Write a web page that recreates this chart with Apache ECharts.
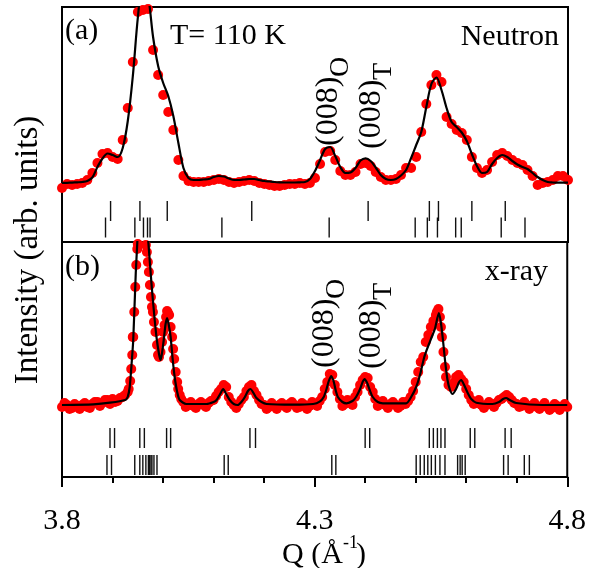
<!DOCTYPE html>
<html><head><meta charset="utf-8">
<script src="https://cdn.jsdelivr.net/npm/echarts@6/dist/echarts.min.js"></script>
<style>html,body{margin:0;padding:0;background:#fff}#c{width:589px;height:568px}</style>
</head><body><div id="c"></div><script>
// Q grid (Å^-1) of the measured points
const qGrid = [3.80,3.81,3.82,3.83,3.84,3.85,3.86,3.87,3.88,3.89,
3.90,3.91,3.92,3.93,3.94,3.95,3.96,3.97,3.98,3.99,
4.00,4.01,4.02,4.03,4.04,4.05,4.06,4.07,4.08,4.09,
4.10,4.11,4.12,4.13,4.14,4.15,4.16,4.17,4.18,4.19,
4.20,4.21,4.22,4.23,4.24,4.25,4.26,4.27,4.28,4.29,
4.30,4.31,4.32,4.33,4.34,4.35,4.36,4.37,4.38,4.39,
4.40,4.41,4.42,4.43,4.44,4.45,4.46,4.47,4.48,4.49,
4.50,4.51,4.52,4.53,4.54,4.55,4.56,4.57,4.58,4.59,
4.60,4.61,4.62,4.63,4.64,4.65,4.66,4.67,4.68,4.69,
4.70,4.71,4.72,4.73,4.74,4.75,4.76,4.77,4.78,4.79,4.80];

// (a) Neutron, observed intensity (arb. units)
const neutronObs = [54,58,57,58,59,62,69,79,88,89,
85,83,102,134,180,230,232,233,192,167,
147,130,112,82,66,61,60,60,60,61,
62,63,62,60,59,60,61,62,61,59,
58,57,56,56,57,58,58,59,58,59,
64,78,90,91,82,71,67,67,70,78,
79,76,70,65,62,62,63,67,74,74,
85,110,138,157,167,160,125,118,112,109,
102,85,74,69,72,80,87,89,86,82,
79,77,72,66,57,59,60,62,66,66,62];

// (a) Neutron, calculated (fit)
const neutronFit = [59,59.2,59.4,59.7,60,61,64.5,75,83.5,88.5,
87,85,94,121,166,225,262,247,205,176,
159,146,126,99,74,64,62,62,62.5,63,
65,66,65.5,63.5,62,62,62.5,63,63,62,
61,60.5,60,59.7,59.5,59.5,59.5,59.7,60,63,
71,82,93,95,86,75,69,69.5,74,81.5,
83.7,81,74.5,67,63,62,63,66.5,72,84,
97,110,135,158,164.5,152,134,120,115,109.5,
101,88,76,69,70,78,84,87,85,81,
77.5,75,73,69,65,62,60,59.5,59.3,59.3,59.3];

// (b) x-ray, observed intensity on the Q grid
const xrayObs = [70,72,69,71,72,70,73,75,74,77,
78,76,80,85,140,233,300,215,165,122,
145,164,128,88,75,72,71,73,72,74,
77,85,92,80,72,73,80,90,86,77,
72,70,71,72,71,73,72,70,72,71,
73,76,88,103,92,78,73,74,80,92,
100,90,78,74,72,73,72,71,73,80,
95,115,135,150,162,150,100,90,100,98,
88,77,74,72,72,73,74,78,82,77,
73,71,72,71,70,71,70,69,71,70,70];

// (b) x-ray, additional observed points (finer steps)
const xrayObsExtra = [[3.805,74],[3.815,68],[3.825,73],[3.835,68],[3.845,74],[3.855,69],[3.865,75],[3.875,71],[3.885,77],[3.895,73],
[3.905,75],[3.915,79],[3.925,82],[3.932,88],[3.935,96],[3.937,108],[3.939,122],[3.941,140],[3.943,165],[3.945,190],[3.947,212],[3.949,228],
[3.966,232],[3.968,225],[3.972,205],[3.974,192],[3.976,180],[3.978,170],[3.982,155],[3.985,145],[3.988,132],[3.992,120],[3.995,125],[3.998,135],[4.003,152],[4.006,160],[4.008,166],[4.012,162],[4.015,150],[4.018,140],[4.022,118],[4.025,105],[4.028,95],[4.033,82],[4.036,78],
[4.045,70],[4.055,75],[4.065,69],[4.075,75],[4.085,70],[4.095,76],[4.105,81],
[4.115,88],[4.125,90],[4.135,75],[4.145,69],[4.155,77],[4.165,86],[4.175,92],[4.185,82],
[4.195,73],[4.205,68],[4.215,74],[4.225,68],[4.235,74],[4.245,69],[4.255,75],[4.265,69],[4.275,74],[4.285,68],[4.295,75],[4.305,71],[4.315,80],
[4.325,95],[4.335,102],[4.345,85],[4.355,71],[4.365,77],[4.375,72],[4.385,85],[4.395,97],[4.405,99],[4.415,85],
[4.425,71],[4.435,76],[4.445,69],[4.455,75],[4.465,69],[4.475,75],[4.485,76],[4.495,86],
[4.505,105],[4.515,120],[4.525,142],[4.535,156],[4.542,165],[4.545,168],[4.548,160],[4.552,140],[4.555,125],[4.558,110],[4.565,92],[4.575,94],[4.585,102],[4.595,95],
[4.605,82],[4.615,73],[4.625,77],[4.635,69],[4.645,75],[4.655,70],[4.665,77],[4.675,80],[4.685,80],
[4.695,74],[4.705,70],[4.715,75],[4.725,68],[4.735,74],[4.745,68],[4.755,74],[4.765,67],[4.775,73],[4.785,67],[4.795,73]];

// (b) x-ray, calculated (fit)
const xrayFit = [[3.80,72],[3.862,72.7],[3.895,74.3],[3.925,77],[3.930,80],[3.934,90],[3.938,115],[3.941,137],[3.946,204],[3.949,234],[3.952,267],[3.958,297],[3.964,277],[3.971,234],[3.977,194],[3.982,165],[3.987,140],[3.992,123],[3.995,117],[3.998,124],[4.002,140],[4.005,153],[4.008,159],[4.011,153],[4.015,140],[4.019,118],[4.023,100],[4.028,85],[4.033,77],[4.046,73],[4.086,73],[4.100,75],[4.106,77],[4.113,83],[4.119,88],[4.125,83],[4.132,77],[4.140,73],[4.148,72],[4.155,75],[4.162,80],[4.168,86],[4.173,88],[4.179,84],[4.185,79],[4.195,75],[4.205,73],[4.257,72.3],[4.297,73],[4.310,75.3],[4.318,80],[4.323,87],[4.328,96],[4.333,101],[4.338,95],[4.342,86],[4.346,80],[4.355,75],[4.363,73.7],[4.375,76],[4.382,80],[4.390,88],[4.395,95],[4.399,98],[4.404,94],[4.409,87],[4.415,80],[4.425,75],[4.435,73.7],[4.481,73.7],[4.491,80],[4.501,90],[4.509,103],[4.517,120],[4.524,130],[4.531,139],[4.538,148],[4.546,164],[4.550,154],[4.554,137],[4.558,117],[4.563,97],[4.568,87],[4.573,83],[4.580,88],[4.586,95],[4.590,97],[4.595,93],[4.603,84],[4.610,78],[4.620,74.3],[4.652,73],[4.665,75],[4.673,78],[4.679,79],[4.686,77],[4.699,74],[4.751,72],[4.80,72]];

// Bragg reflection positions
const neutronBragg1 = [3.896,3.954,4.008,4.175,4.405,4.526,4.544,4.610,4.676];
const neutronBragg2 = [3.886,3.944,3.961,3.969,3.974,4.116,4.328,4.498,4.522,4.542,4.578,4.589,4.668,4.715];
const xrayBragg1 = [3.895,3.904,3.954,3.963,4.007,4.015,4.172,4.183,4.400,4.409,4.527,4.535,4.543,4.550,4.558,4.608,4.617,4.677,4.689];
const xrayBragg2 = [3.889,3.898,3.944,3.954,3.960,3.966,3.971,3.973,3.976,3.978,3.982,3.988,4.121,4.129,4.334,4.342,4.501,4.509,4.517,4.524,4.531,4.539,4.548,4.558,4.583,4.588,4.592,4.598,4.674,4.683,4.715,4.725];

const xTicks = [3.8, 4.3, 4.8];

const FONT = '"Liberation Serif", "Times New Roman", serif';
const pairs = (q, v) => q.map((x, i) => [x, v[i]]);
const level = (q, y) => q.map(x => [x, y]);

const chart = echarts.init(document.getElementById('c'), null, {renderer: 'canvas'});

function txt(x, y, text, size, align, valign, rot) {
  return {type: 'text', x: x, y: y, rotation: rot || 0, silent: true,
    style: {text: text, font: size + 'px ' + FONT, fill: '#000',
      align: align, verticalAlign: valign, textAlign: align, textVerticalAlign: valign}};
}
function peakLabel(x, y, sub) {
  return {type: 'group', x: x, y: y, rotation: Math.PI / 2, silent: true, children: [
    txt(0, 0, '(008)', 32, 'left', 'middle'),
    txt(69, 12, sub, 28, 'left', 'middle')
  ]};
}

const braggStyle = {type: 'scatter', symbol: 'rect', symbolSize: [1.4, 20], itemStyle: {color: '#111', opacity: 1}, silent: true, z: 1};
const dotStyle = {color: '#ff0000', opacity: 1};

chart.setOption({
  animation: false,
  grid: [
    {left: 62, top: 7, width: 506, height: 235, show: true, borderColor: '#000', borderWidth: 2, backgroundColor: 'transparent'},
    {left: 62, top: 242, width: 506, height: 235, show: true, borderColor: '#000', borderWidth: 2, backgroundColor: 'transparent'}
  ],
  xAxis: [
    {gridIndex: 0, type: 'value', min: 3.8, max: 4.8, show: false},
    {gridIndex: 1, type: 'value', min: xTicks[0], max: xTicks[2], interval: 0.5,
      axisLine: {lineStyle: {color: '#000', width: 2}},
      axisTick: {length: 10, lineStyle: {color: '#000', width: 2}},
      minorTick: {show: true, splitNumber: 5, length: 6, lineStyle: {color: '#000', width: 2}},
      splitLine: {show: false}, minorSplitLine: {show: false},
      axisLabel: {fontFamily: FONT, fontSize: 30, color: '#000', margin: 29,
        formatter: v => v.toFixed(1)}}
  ],
  yAxis: [
    {gridIndex: 0, type: 'value', min: 0, max: 235, show: false},
    {gridIndex: 1, type: 'value', min: 0, max: 235, show: false}
  ],
  series: [
    {type: 'scatter', xAxisIndex: 0, yAxisIndex: 0, data: pairs(qGrid, neutronObs), symbolSize: 10, itemStyle: dotStyle, z: 2},
    {type: 'line', xAxisIndex: 0, yAxisIndex: 0, data: pairs(qGrid, neutronFit), showSymbol: false, smooth: 0.3, lineStyle: {color: '#000', width: 2.2}, z: 3},
    Object.assign({xAxisIndex: 0, yAxisIndex: 0, data: level(neutronBragg1, 31)}, braggStyle),
    Object.assign({xAxisIndex: 0, yAxisIndex: 0, data: level(neutronBragg2, 14.5)}, braggStyle),
    {type: 'scatter', xAxisIndex: 1, yAxisIndex: 1, data: pairs(qGrid, xrayObs).concat(xrayObsExtra), symbolSize: 10, itemStyle: dotStyle, z: 2},
    {type: 'line', xAxisIndex: 1, yAxisIndex: 1, data: xrayFit, showSymbol: false, smooth: 0.25, lineStyle: {color: '#000', width: 2.2}, z: 3},
    Object.assign({xAxisIndex: 1, yAxisIndex: 1, data: level(xrayBragg1, 39)}, braggStyle),
    Object.assign({xAxisIndex: 1, yAxisIndex: 1, data: level(xrayBragg2, 12)}, braggStyle)
  ],
  graphic: [
    txt(65, 31, '(a)', 30, 'left', 'middle'),
    txt(170, 36, 'T= 110 K', 30, 'left', 'middle'),
    txt(559, 37, 'Neutron', 30, 'right', 'middle'),
    txt(65, 267, '(b)', 30, 'left', 'middle'),
    txt(548, 272, 'x-ray', 30, 'right', 'middle'),
    peakLabel(329, 146, 'O'),
    peakLabel(372, 149, 'T'),
    peakLabel(325, 368, 'O'),
    peakLabel(372, 369, 'T'),
    txt(28, 250, 'Intensity (arb. units)', 33, 'center', 'middle', Math.PI / 2),
    txt(282, 555, 'Q (Å', 30, 'left', 'middle'),
    txt(343, 543, '-1', 18, 'left', 'middle'),
    txt(356, 555, ')', 30, 'left', 'middle')
  ]
});
</script></body></html>
